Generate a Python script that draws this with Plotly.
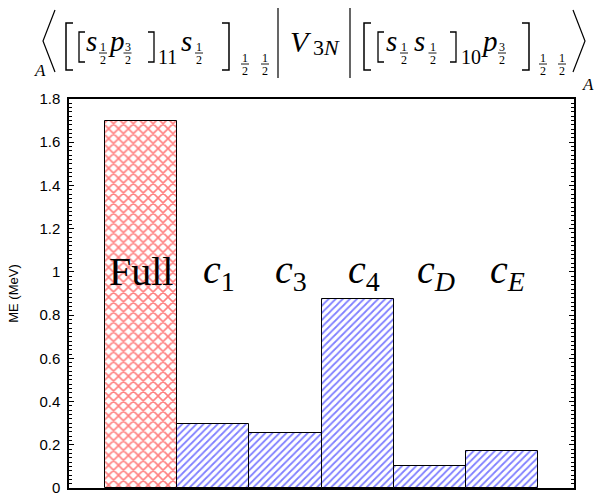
import plotly.graph_objects as go

# ---- data ----
categories = ["Full", "c1", "c3", "c4", "cD", "cE"]
values = [1.70, 0.297, 0.255, 0.875, 0.100, 0.172]
bar_labels = ["Full", "<i>c</i><sub>1</sub>", "<i>c</i><sub>3</sub>", "<i>c</i><sub>4</sub>",
              "<i>c</i><sub><i>D</i></sub>", "<i>c</i><sub><i>E</i></sub>"]
y_ticks = [0, 0.2, 0.4, 0.6, 0.8, 1.0, 1.2, 1.4, 1.6, 1.8]

W, H = 594, 493
L, R, T, B = 69, 20, 99, 5
PW, PH = W - L - R, H - T - B
SERIF = "Times New Roman, Liberation Serif, Tinos, serif"

xpos = list(range(len(categories)))

fig = go.Figure()
# Full bar (red crosshatch)
fig.add_trace(go.Bar(
    x=xpos[:1], y=values[:1], width=1,
    marker=dict(color="white", line=dict(color="black", width=1),
                pattern=dict(shape="x", fgcolor="#ff0000", bgcolor="white", size=7, solidity=0.4)),
    showlegend=False))
# components (blue diagonal hatch)
fig.add_trace(go.Bar(
    x=xpos[1:], y=values[1:], width=1,
    marker=dict(color="white", line=dict(color="black", width=1),
                pattern=dict(shape="/", fgcolor="#0000ff", bgcolor="white", size=5, solidity=0.35)),
    showlegend=False))

annotations = []
shapes = []

# bar labels
for i, lab in enumerate(bar_labels):
    annotations.append(dict(x=xpos[i], y=1.0, xref="x", yref="y", text=lab, showarrow=False,
                            xanchor="center", yanchor="middle", xshift=0 if i == 0 else 6,
                            font=dict(family=SERIF, size=40, color="black")))

# ---- title built from pieces (pixel placement) ----
K = 0.30


def px2paper(px, py):
    return (px - L) / PW, (H - B - py) / PH


def txt(cx, baseline, text, size, italic=False):
    if italic:
        text = "<i>" + text + "</i>"
    annotations.append(dict(x=0, y=1, xref="paper", yref="paper", text=text, showarrow=False,
                            xanchor="center", yanchor="middle",
                            xshift=cx - L, yshift=T - (baseline - K * size),
                            font=dict(family=SERIF, size=size, color="black")))


def frac(cx, cy_bar, num="1", den="2", size=12):
    txt(cx, cy_bar - 2, num, size)
    txt(cx, cy_bar + 10.5, den, size)
    x0, y0 = px2paper(cx - 4, cy_bar)
    x1, y1 = px2paper(cx + 4, cy_bar)
    shapes.append(dict(type="line", xref="paper", yref="paper", x0=x0, y0=y0, x1=x1, y1=y1,
                       line=dict(color="black", width=0.9)))


def path(points, width=1.3):
    p = ""
    for k, (px, py) in enumerate(points):
        fx, fy = px2paper(px, py)
        p += ("M" if k == 0 else "L") + f"{fx:.5f},{fy:.5f} "
    shapes.append(dict(type="path", xref="paper", yref="paper", path=p.strip(),
                       line=dict(color="black", width=width)))


# delimiters
path([(55, 10), (43, 41), (55, 72)], 1.2)
path([(73, 23), (66, 23), (66, 70), (73, 70)], 1.5)
path([(85, 32), (79, 32), (79, 62), (85, 62)], 1.3)
path([(148, 32), (154, 32), (154, 62), (148, 62)], 1.3)
path([(222, 23), (229, 23), (229, 70), (222, 70)], 1.5)
path([(278, 8), (278, 78)], 1.2)
path([(350, 8), (350, 78)], 1.2)
path([(371, 23), (364, 23), (364, 70), (371, 70)], 1.5)
path([(384, 32), (378, 32), (378, 62), (384, 62)], 1.3)
path([(450, 32), (456, 32), (456, 62), (450, 62)], 1.3)
path([(522, 23), (529, 23), (529, 70), (522, 70)], 1.5)
path([(573, 10), (585, 41), (573, 72)], 1.2)

txt(40, 76, "A", 17, True)
txt(91.5, 50, "s", 29, True)
frac(103, 53)
txt(116, 50, "p", 29, True)
frac(127.5, 53, "3", "2")
txt(167.5, 63, "11", 20)
txt(186, 50, "s", 29, True)
frac(199, 53)
frac(245, 64)
frac(265, 64)
txt(301, 50, "V", 30, True)
txt(326, 54, "3<i>N</i>", 22)
txt(391, 50, "s", 29, True)
frac(404, 53)
txt(419, 50, "s", 29, True)
frac(432.5, 53)
txt(471, 63, "10", 20)
txt(489, 50, "p", 29, True)
frac(502, 53, "3", "2")
frac(543, 64)
frac(562, 64)
txt(588, 90, "A", 17, True)

fig.update_layout(
    width=W, height=H,
    margin=dict(l=L, r=R, t=T, b=B, autoexpand=False),
    paper_bgcolor="white", plot_bgcolor="white",
    bargap=0,
    annotations=annotations, shapes=shapes,
    xaxis=dict(range=[-1, 6], showticklabels=False, ticks="", showgrid=False, zeroline=False,
               showline=True, linecolor="black", linewidth=1.5, mirror=True, automargin=False),
    yaxis=dict(range=[0, 1.8], tickvals=y_ticks, ticks="inside", ticklen=5, tickwidth=1.2,
               tickcolor="black", showgrid=False, zeroline=False, automargin=False,
               showline=True, linecolor="black", linewidth=1.5, mirror="ticks",
               minor=dict(dtick=0.02, ticks="inside", ticklen=3, tickcolor="black", tickwidth=1, showgrid=False),
               tickfont=dict(family="Liberation Sans", size=15, color="black"),
               ticklabelstandoff=4, ticklabeloverflow="allow",
               title=dict(text="ME (MeV)", font=dict(family="Liberation Sans", size=13, color="black"),
                          standoff=18)),
    font=dict(family="Liberation Sans", color="black"),
)

fig.write_html("out.html")
